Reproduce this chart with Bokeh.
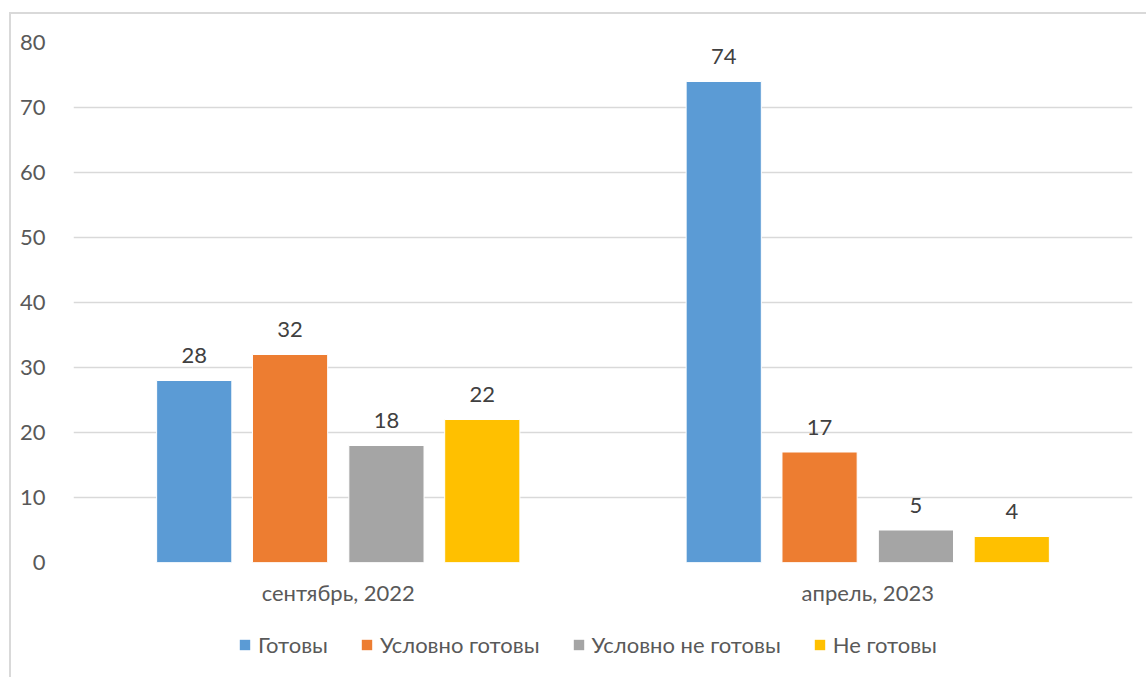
from bokeh.plotting import figure
from bokeh.layouts import column
from bokeh.models import ColumnDataSource, FactorRange, Legend, LegendItem, Range1d, SingleIntervalTicker
from bokeh.transform import dodge
from bokeh.core.properties import value
from bokeh.embed import file_html
from bokeh.resources import INLINE

categories = ["сентябрь, 2022", "апрель, 2023"]
series_names = ["Готовы", "Условно готовы", "Условно не готовы", "Не готовы"]
gotovy = [28, 74]
uslovno_gotovy = [32, 17]
uslovno_ne_gotovy = [18, 5]
ne_gotovy = [22, 4]
colors = ["#5B9BD5", "#ED7D31", "#A5A5A5", "#FFC000"]
offsets = [-0.272, -0.091, 0.091, 0.272]

FONT = "Lato"
FS = "22px"

src = ColumnDataSource(dict(
    cat=categories,
    s0=gotovy, s1=uslovno_gotovy, s2=uslovno_ne_gotovy, s3=ne_gotovy,
    l0=[str(v) for v in gotovy], l1=[str(v) for v in uslovno_gotovy],
    l2=[str(v) for v in uslovno_ne_gotovy], l3=[str(v) for v in ne_gotovy],
))

p = figure(x_range=FactorRange(*categories, range_padding=0),
           y_range=Range1d(0, 80),
           frame_width=1059, frame_height=520, output_backend="svg", toolbar_location=None,
           min_border_left=73, min_border_right=14, min_border_top=42, min_border_bottom=0)
p.styles = {"background": "linear-gradient(#d9d9d9,#d9d9d9) 9px 12px / 2px 100% no-repeat, "
                          "linear-gradient(#d9d9d9,#d9d9d9) 9px 12px / 100% 2px no-repeat, white"}

for i in range(4):
    p.vbar(x=dodge("cat", offsets[i], range=p.x_range), top=f"s{i}", width=0.142,
           source=src, fill_color=colors[i], line_color="white", line_width=1)
    p.text(x=dodge("cat", offsets[i], range=p.x_range), y=f"s{i}", text=f"l{i}", source=src,
           text_align="center", text_baseline="middle", y_offset=-25,
           text_font=value(FONT), text_font_size=FS, text_color="#404040")

p.xgrid.grid_line_color = None
p.ygrid.grid_line_color = "#d9d9d9"
p.ygrid.grid_line_width = 1.5
p.yaxis.ticker = SingleIntervalTicker(interval=10)
for ax in (p.xaxis[0], p.yaxis[0]):
    ax.axis_line_color = None
    ax.major_tick_line_color = None
    ax.minor_tick_line_color = None
    ax.major_label_text_font = FONT
    ax.major_label_text_font_size = FS
    ax.major_label_text_color = "#595959"
p.yaxis.major_label_standoff = 22
p.xaxis.major_label_standoff = 10
p.outline_line_color = None
p.background_fill_color = "white"
p.border_fill_color = None

# legend strip below the chart (its swatch renderers have zero width and sit outside the y range)
p2 = figure(x_range=FactorRange(*categories), y_range=Range1d(1000, 1010),
            width=1146, height=78, output_backend="svg", toolbar_location=None,
            x_axis_location=None, y_axis_location=None, min_border=0)
p2.styles = {"background": "linear-gradient(#d9d9d9,#d9d9d9) 9px 0px / 2px 100% no-repeat, white"}
p2.grid.grid_line_color = None
p2.outline_line_color = None
p2.background_fill_color = None
p2.border_fill_color = None
items = []
for i in range(4):
    r = p2.vbar(x="cat", top=f"s{i}", width=0, source=src,
                fill_color=colors[i], line_color=None)
    items.append(LegendItem(label=series_names[i], renderers=[r]))
legend = Legend(items=items, orientation="horizontal", location=(165, 28),
                label_text_font=FONT, label_text_font_size=FS, label_text_color="#595959",
                glyph_width=13, glyph_height=13, spacing=32, label_standoff=7,
                border_line_color=None, background_fill_alpha=0, margin=0, padding=0)
p2.add_layout(legend, "center")

open("out.html", "w").write(file_html(column(p, p2, spacing=0), INLINE))
